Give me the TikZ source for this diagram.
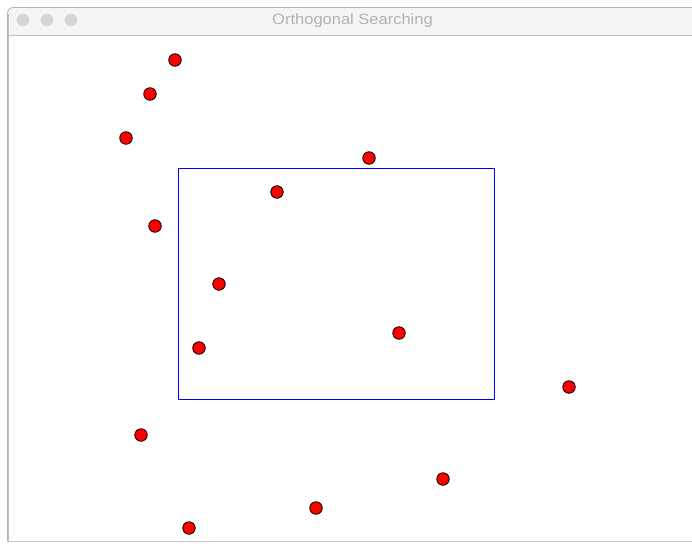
\documentclass[tikz,border=0pt]{standalone}
\usepackage{fontspec}
\setmainfont{Liberation Sans}
\begin{document}
\begin{tikzpicture}[x=1pt,y=-1pt,
  pt/.style={circle,fill=red,draw=black,line width=0.8pt,minimum size=12.5pt,inner sep=0pt},
  light/.style={circle,fill=black!16,draw=black!20,line width=0.4pt,minimum size=12pt,inner sep=0pt}]
\useasboundingbox (0,0) rectangle (692,543);
\fill[white] (0,0) rectangle (692,543);
% window
\fill[black!4,rounded corners=5pt] (7,7) rectangle (700,40);
\fill[black!25] (7,14) rectangle (9,541);
\fill[white] (9,36) rectangle (692,540);
\draw[black!22,line width=0.8pt] (7,541) -- (692,541);
\draw[black!25,line width=1pt] (9,35.5) -- (692,35.5);
\draw[black!30,line width=0.6pt,rounded corners=5pt] (7.5,541) -- (7.5,7.5) -- (700,7.5);
\node[light] (c1) at (23,20) {};
\node[light] (c2) at (47,20) {};
\node[light] (c3) at (71,20) {};
\node[text=black!30,font=\fontsize{15}{17}\selectfont,inner sep=0pt] (title) at (352.5,21) {\scalebox{1.1}[1]{Orthogonal Searching}};
% query rectangle
\draw[blue,line width=0.9pt] (178,168) rectangle (494,399);
% points
\foreach \n/\x/\y in {p1/175/60,p2/150/94,p3/126/138,p4/369/158,p5/277/192,p6/155/226,p7/219/284,p8/399/333,p9/199/348,p10/569/387,p11/141/435,p12/443/479,p13/316/508,p14/189/528}
  \node[pt] (\n) at (\x,\y) {};
\end{tikzpicture}
\end{document}
